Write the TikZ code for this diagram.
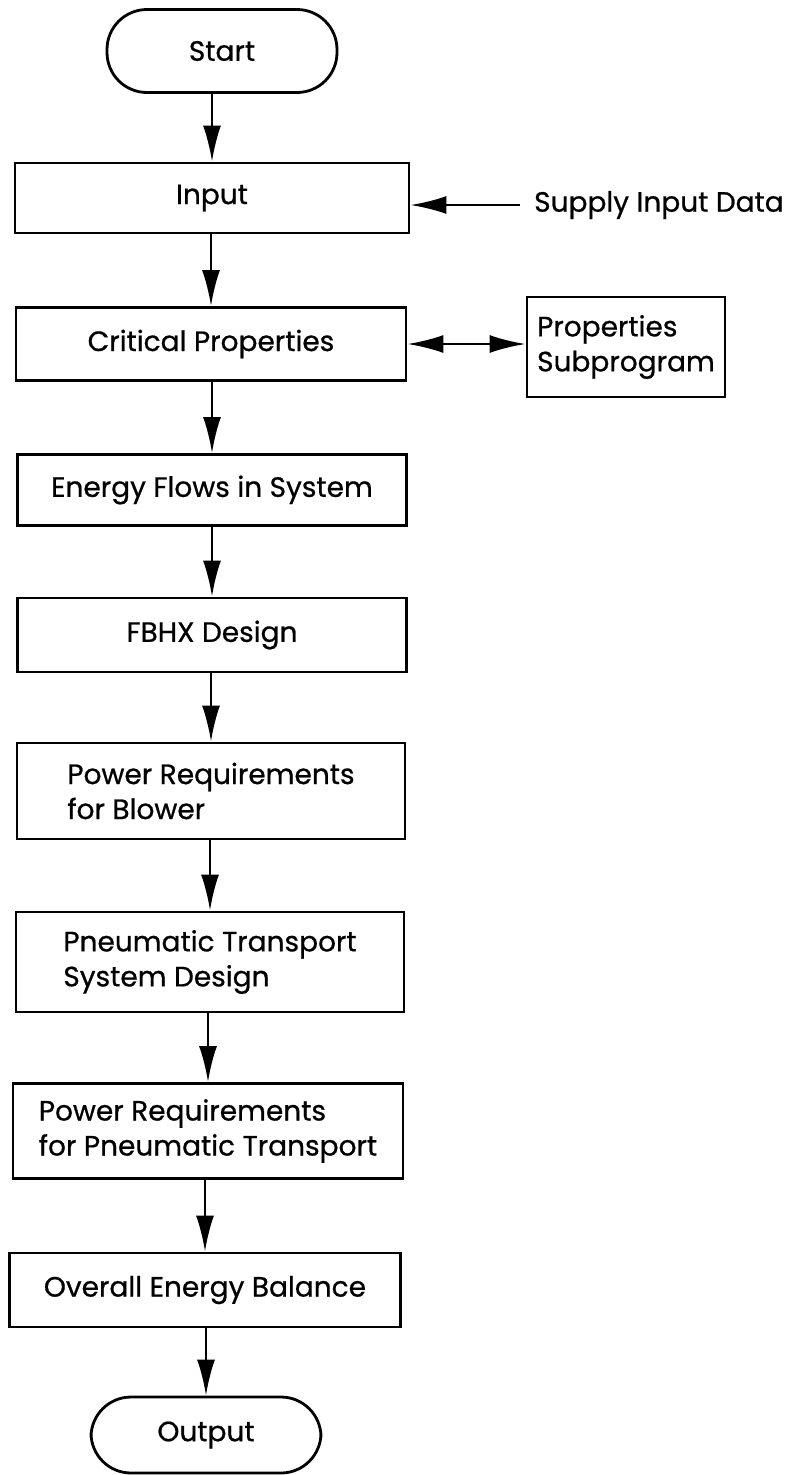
\documentclass[tikz,border=0pt]{standalone}
\usepackage{fontspec}
\setmainfont{Poppins}[FakeBold=0.7]
\usetikzlibrary{arrows.meta}
\newcommand{\flowfont}{\fontsize{28}{35}\selectfont}
\begin{document}
\begin{tikzpicture}[x=1pt,y=-1pt,
  stepbox/.style={draw, line width=2.8pt, inner sep=0pt, font=\flowfont, align=left},
  terminal/.style={stepbox, rounded corners=40pt, minimum width=230pt},
  flowarrow/.style={line width=2.6pt, -{Latex[length=36pt,width=18pt]}},
  bothways/.style={line width=2.6pt, {Latex[length=36pt,width=18pt]}-{Latex[length=36pt,width=18pt]}},
  note/.style={font=\flowfont, inner ysep=0pt, inner xsep=14pt, anchor=west}]
\useasboundingbox[fill=white] (0,0) rectangle (789,1475);

% main column
\node[terminal, minimum height=83pt] (start) at (222,51) {Start};
\node[stepbox, minimum width=394pt, minimum height=70pt] (input) at (212,198) {Input};
\node[stepbox, minimum width=390pt, minimum height=73pt] (crit) at (211,344) {Critical Properties};
\node[stepbox, minimum width=389pt, minimum height=71pt] (energy) at (212,490) {Energy Flows in System};
\node[stepbox, minimum width=389pt, minimum height=74pt] (fbhx) at (212,635) {FBHX Design};
\node[stepbox, minimum width=388pt, minimum height=96pt] (blower) at (211,791) {Power Requirements\\for Blower};
\node[stepbox, minimum width=388pt, minimum height=100pt] (pneu) at (210,962) {Pneumatic Transport\\System Design};
\node[stepbox, minimum width=390pt, minimum height=95pt] (powpneu) at (208,1131) {Power Requirements\\for Pneumatic Transport};
\node[stepbox, minimum width=391pt, minimum height=74pt] (overall) at (205,1290) {Overall Energy Balance};
\node[terminal, minimum height=76pt] (output) at (206,1435) {Output};

% side items
\node[note] (supply) at (520,205) {Supply Input Data};
\node[stepbox, minimum width=198pt, minimum height=100pt] (sub) at (626,347) {Properties\\Subprogram};

% connectors
\draw[flowarrow] (input.north |- start.south) -- (input.north);
\draw[flowarrow] (crit.north |- input.south) -- (crit.north);
\draw[flowarrow] (energy.north |- crit.south) -- (energy.north);
\draw[flowarrow] (fbhx.north |- energy.south) -- (fbhx.north);
\draw[flowarrow] (blower.north |- fbhx.south) -- (blower.north);
\draw[flowarrow] (pneu.north |- blower.south) -- (pneu.north);
\draw[flowarrow] (powpneu.north |- pneu.south) -- (powpneu.north);
\draw[flowarrow] (overall.north |- powpneu.south) -- (overall.north);
\draw[flowarrow] (output.north |- overall.south) -- (output.north);
\draw[flowarrow] (supply.west) -- (supply.west -| input.east);
\draw[bothways] (crit.east) -- (crit.east -| sub.west);
\end{tikzpicture}
\end{document}
